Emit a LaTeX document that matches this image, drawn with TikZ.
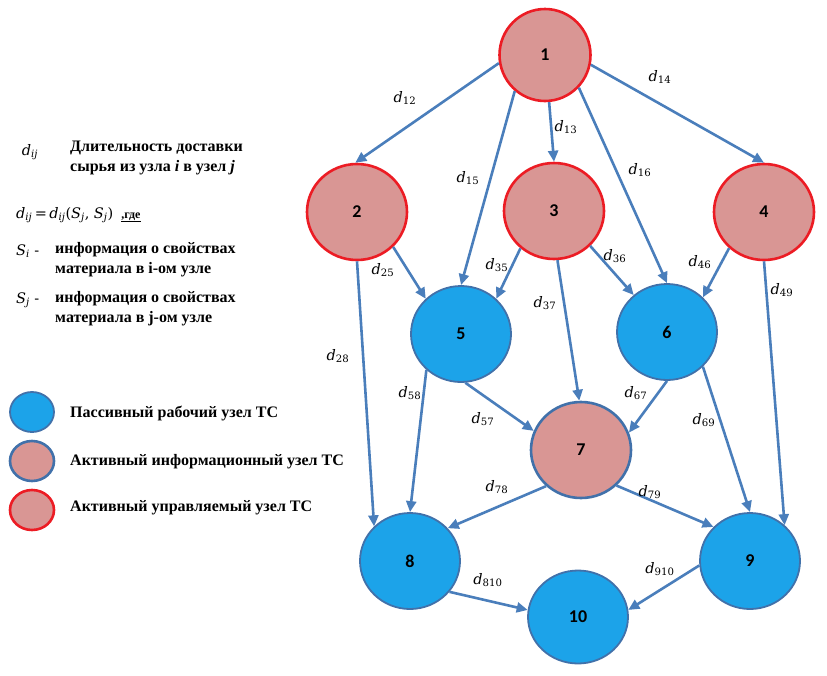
\documentclass[tikz,border=0pt]{standalone}
\usepackage{fontspec}
\setmainfont{Liberation Serif}
\newfontfamily\numfont{Carlito}
\newfontfamily\labfont{DejaVu Serif}
\usetikzlibrary{arrows.meta,shapes.geometric}

\definecolor{azure}{RGB}{28,163,233}
\definecolor{pinkfill}{RGB}{217,150,148}
\definecolor{redline}{RGB}{236,28,36}
\definecolor{bluerim}{RGB}{65,113,170}
\definecolor{edgeblue}{RGB}{74,126,187}

% italic delivery-time symbol with an upright subscript
\newcommand{\dlab}[1]{{\itshape d}\textsubscript{\upshape #1}}
\newcommand{\sub}[1]{\textsubscript{#1}}

\begin{document}
\begin{tikzpicture}[x=1pt,y=-1pt,
  vert/.style={ellipse, minimum width=100pt, minimum height=96pt, inner sep=0pt,
    font=\numfont\bfseries\fontsize{18}{20}\selectfont},
  ctrl/.style={vert, fill=pinkfill, draw=redline, line width=2.6pt},
  info/.style={vert, fill=pinkfill, draw=bluerim, line width=2.6pt},
  work/.style={vert, fill=azure, draw=bluerim, line width=1.8pt},
  link/.style={draw=edgeblue, line width=2.6pt, -{Triangle[length=11pt,width=10pt]}},
  lab/.style={font=\labfont\fontsize{14.5}{16}\selectfont, inner sep=1pt},
  leg/.style={anchor=west, font=\bfseries\fontsize{16}{20}\selectfont, align=left, inner sep=0pt},
  keydot/.style={ellipse, minimum width=44pt, minimum height=40pt, inner sep=0pt},
]
\useasboundingbox (0,0) rectangle (827,675);

% network nodes
\node[ctrl, minimum width=91pt, minimum height=92pt] (n1) at (545,55) {1};
\node[ctrl] (n2) at (357,212) {2};
\node[ctrl] (n3) at (554,211) {3};
\node[ctrl] (n4) at (764,212) {4};
\node[work] (n5) at (461,334) {5};
\node[work] (n6) at (667,332) {6};
\node[info] (n7) at (581,450) {7};
\node[work] (n8) at (410,561) {8};
\node[work] (n9) at (750,561) {9};
\node[work, minimum height=93pt] (n10) at (578,617) {10};

% delivery links
\draw[link] (n1.190) -- (n2.92);
\draw[link] (n1.230) -- (n5.90);
\draw[link] (n1.275) -- (n3.90);
\draw[link] (n1.316) -- (n6.90);
\draw[link] (n1.348) -- (n4.90);
\draw[link] (n2.316) -- (n5.135);
\draw[link] (n2.270) -- (n8.136);
\draw[link] (n3.228) -- (n5.45);
\draw[link] (n3.316) -- (n6.132);
\draw[link] (n3.274) -- (n7.92);
\draw[link] (n4.226) -- (n6.44);
\draw[link] (n4.270) -- (n9.46);
\draw[link] (n5.226) -- (n8.90);
\draw[link] (n5.275) -- (n7.158);
\draw[link] (n6.270) -- (n7.20);
\draw[link] (n6.316) -- (n9.90);
\draw[link] (n7.226) -- (n8.41);
\draw[link] (n7.315) -- (n9.137);
\draw[link] (n8.322) -- (n10.172);
\draw[link] (n9.185) -- (n10.8);

% link labels
\node[lab] (l12) at (405,98) {\dlab{12}};
\node[lab] (l13) at (566,127) {\dlab{13}};
\node[lab] (l14) at (660,77) {\dlab{14}};
\node[lab] (l15) at (468,178) {\dlab{15}};
\node[lab] (l16) at (640,170) {\dlab{16}};
\node[lab] (l25) at (383,270) {\dlab{25}};
\node[lab] (l35) at (497,265) {\dlab{35}};
\node[lab] (l36) at (615,256) {\dlab{36}};
\node[lab] (l46) at (700,262) {\dlab{46}};
\node[lab] (l49) at (782,290) {\dlab{49}};
\node[lab] (l37) at (545,303) {\dlab{37}};
\node[lab] (l28) at (338,356) {\dlab{28}};
\node[lab] (l58) at (410,393) {\dlab{58}};
\node[lab] (l57) at (483,419) {\dlab{57}};
\node[lab] (l67) at (636,393) {\dlab{67}};
\node[lab] (l69) at (704,420) {\dlab{69}};
\node[lab] (l78) at (497,487) {\dlab{78}};
\node[lab] (l79) at (650,492) {\dlab{79}};
\node[lab] (l810) at (488,580) {\dlab{810}};
\node[lab] (l910) at (660,569) {\dlab{910}};

% notation
\node[lab] (sym) at (30,152) {{\itshape d\sub{ij}}};
\node[leg] (symtxt) at (70,158) {Длительность доставки\\сырья из узла \textit{i} в узел \textit{j}};
\node[lab, anchor=west] (formula) at (15,215) {{\itshape d\sub{ij}}\,=\,{\itshape d\sub{ij}}({\itshape S\sub{j}}, {\itshape S\sub{j}})\;\;{\rmfamily\bfseries\fontsize{12}{13}\selectfont\underline{,где}}};
\node[lab, anchor=west] (si) at (15,251) {{\itshape S\sub{i}} -};
\node[leg] (sitxt) at (55,260) {информация о свойствах\\материала в i-ом узле};
\node[lab, anchor=west] (sj) at (15,300) {{\itshape S\sub{j}} -};
\node[leg] (sjtxt) at (55,309) {информация о свойствах\\материала в j-ом узле};

% node types
\node[keydot, fill=azure, draw=bluerim, line width=1.8pt] (k1) at (32,412) {};
\node[keydot, fill=pinkfill, draw=bluerim, line width=2.6pt] (k2) at (32,461) {};
\node[keydot, fill=pinkfill, draw=redline, line width=2.6pt] (k3) at (32,510) {};
\node[leg] (k1txt) at (70,413) {Пассивный рабочий узел ТС};
\node[leg] (k2txt) at (70,462) {Активный информационный узел ТС};
\node[leg] (k3txt) at (70,508) {Активный управляемый узел ТС};
\end{tikzpicture}
\end{document}
